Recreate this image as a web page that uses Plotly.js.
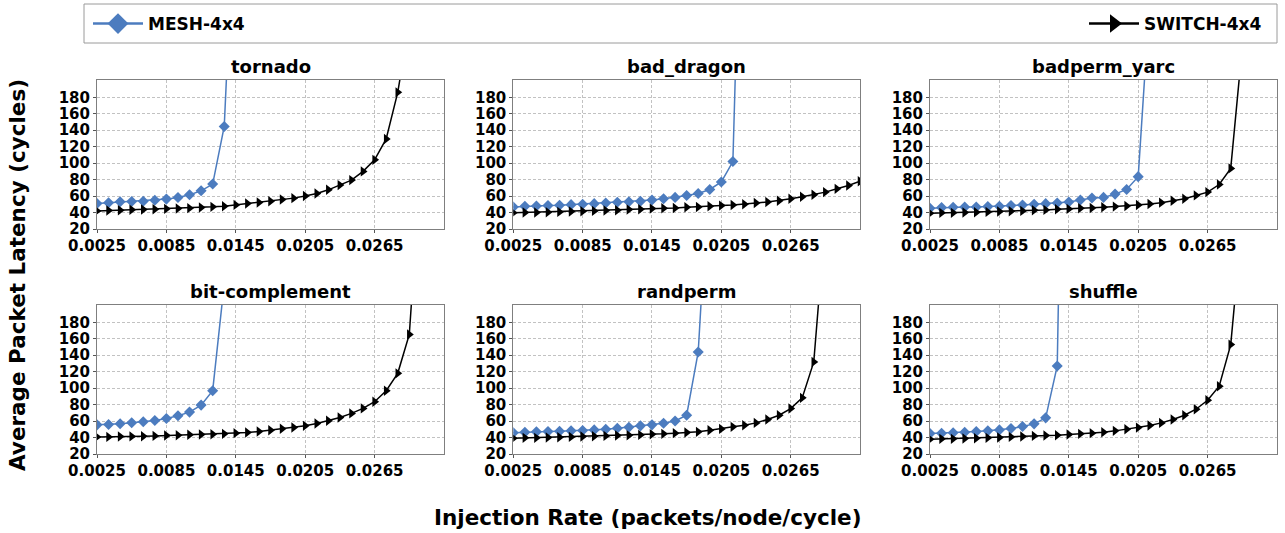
<!DOCTYPE html>
<html>
<head>
<meta charset="utf-8">
<script src="https://cdn.plot.ly/plotly-3.0.1.min.js"></script>
<style>html,body{margin:0;padding:0;background:#fff;}#chart{width:1285px;height:533px;}</style>
</head>
<body>
<div id="chart"></div>
<script>
// Injection rates (packets/node/cycle)
const rates = [0.0025,0.0035,0.0045,0.0055,0.0065,0.0075,0.0085,0.0095,0.0105,0.0115,0.0125,0.0135,0.0145,0.0155,0.0165,0.0175,0.0185,0.0195,0.0205,0.0215,0.0225,0.0235,0.0245,0.0255,0.0265,0.0275,0.0285,0.0295,0.0305,0.0315,0.0325];

const patterns = ["tornado","bad_dragon","badperm_yarc","bit-complement","randperm","shuffle"];
const seriesNames = ["MESH-4x4","SWITCH-4x4"];

// MESH-4x4 average packet latency (cycles)
const meshTornado      = [51,51.8,53,53.4,53.8,55,56.3,58.3,61.5,66.4,74.6,144.5,450];
const meshBadDragon    = [46.8,47.6,48,48.4,48.8,49.6,50,50.8,51.6,52.4,53.2,53.6,55.2,56.8,58.4,60.8,63.2,68,77.2,102,600];
const meshBadpermYarc  = [45.2,46,46.4,46.8,46.8,47.2,47.6,48.4,49.2,50,50.8,51.6,52.8,55.2,57.6,58.4,62.4,68,83.6,300];
const meshBitComp      = [55.4,55.9,56.7,57.9,59.1,60.7,63.2,66.4,70.9,79.4,96.9,227];
const meshRandperm     = [45.7,46.5,46.9,47.3,47.7,48.1,48.5,49.3,50.1,51.3,52.6,54.2,55.4,57.4,60.2,67.1,144,385];
const meshShuffle      = [44.9,45.3,45.7,46.5,47.3,48.1,49.3,50.9,53.4,56.6,63.9,127,900];

// SWITCH-4x4 average packet latency (cycles)
const switchTornado     = [42,42.4,42.8,43.3,43.7,44,44.5,44.9,45.3,46.1,46.9,47.7,49.3,51,52.2,53.8,55.9,57.5,60,63.2,67.6,73.3,79.4,90,104,129.4,186,270];
const switchBadDragon   = [39.6,40,40,40.4,40.8,41.2,41.6,42,42.4,42.8,43.6,44,44.8,45.2,45.6,46.4,46.8,47.6,48.4,49.2,50,51.6,52.8,54.4,56.8,59.2,61.6,64.8,68.8,72.8,78];
const switchBadpermYarc = [39.2,39.6,39.6,40,40.4,40.8,41.2,41.6,42,42.8,43.2,44,44.4,45.2,45.6,46.4,47.2,48,49.2,50.4,52,54.4,56.8,60.8,64.8,74,93.6,242];
const switchBitComp     = [40.8,40.8,41.2,41.4,41.6,42,42.4,42.8,43.3,43.7,44,44.5,45.3,46.1,47.3,48.9,50.6,52.2,54.2,57.1,60.3,64.4,69.3,75.4,83.5,96.9,118,165.2,372];
const switchRandperm    = [39.2,39.6,39.6,40,40.4,40.8,41.2,41.6,42,42.4,42.8,43.2,44,44.5,45.3,46.1,46.9,48.9,50.5,53,55,57.8,61.9,67.1,75.2,88.2,131.9,304];
const switchShuffle     = [38,38.4,38.4,38.8,39.2,39.6,40,40.8,41.2,42,42.4,42.8,43.6,44.5,45.3,46.5,48.1,50.1,52.1,54.6,57.8,61.9,67.1,74.4,85.3,102.3,152.9,305];

const xTickVals = [0.0025,0.0085,0.0145,0.0205,0.0265];
const xTickText = ["0.0025","0.0085","0.0145","0.0205","0.0265"];
const yTickVals = [20,40,60,80,100,120,140,160,180];
const yTickText = ["20","40","60","80","100","120","140","160","180"];

const meshSeries = [meshTornado, meshBadDragon, meshBadpermYarc, meshBitComp, meshRandperm, meshShuffle];
const switchSeries = [switchTornado, switchBadDragon, switchBadpermYarc, switchBitComp, switchRandperm, switchShuffle];

const W = 1285, H = 533;
const colPx = [[97,444],[513.3,860],[930,1277]];
const rowPx = [[80,229],[305,454]];
const BLUE = '#4C7CBF';
const FONT = 'DejaVu Sans, Verdana, sans-serif';

const traces = [];
const legFont = {family:FONT, size:17, weight:'bold', color:'#000'};
const layout = {
  width: W, height: H,
  margin: {l:0,r:0,t:0,b:0},
  paper_bgcolor: '#fff', plot_bgcolor: '#fff',
  font: {family: FONT, color: '#000', weight: 'bold'},
  showlegend: true,
  annotations: [],
  shapes: [{type:'rect', xref:'paper', yref:'paper', x0:84/W, x1:1277/W, y0:1-43/H, y1:1-4/H, line:{color:'#9a9a9a', width:1}, fillcolor:'rgba(0,0,0,0)'}],
  legend: {x: 88/W, y: 1-24/H, xanchor:'left', yanchor:'middle', orientation:'h', itemwidth:50, itemsizing:'trace', bgcolor:'rgba(0,0,0,0)', borderwidth:0, font:legFont},
  legend2: {x: 1267/W, y: 1-24/H, xanchor:'right', yanchor:'middle', orientation:'h', itemwidth:50, itemsizing:'trace', bgcolor:'rgba(0,0,0,0)', borderwidth:0, font:legFont}
};

patterns.forEach((name, i) => {
  const r = Math.floor(i/3), c = i%3;
  const n = i+1;
  const xa = n === 1 ? 'x' : 'x'+n;
  const ya = n === 1 ? 'y' : 'y'+n;
  const xd = [colPx[c][0]/W, colPx[c][1]/W];
  const yd = [1-rowPx[r][1]/H, 1-rowPx[r][0]/H];
  const axCommon = {
    showline:true, mirror:true, linecolor:'#7f7f7f', linewidth:1,
    showgrid:true, gridcolor:'#c2c2c2', griddash:'3px,2px', gridwidth:1,
    zeroline:false, ticks:'outside', ticklen:3, tickcolor:'#555', tickwidth:1,
    tickfont:{family:FONT, size:15, weight:'bold', color:'#000'}, fixedrange:true
  };
  layout['xaxis'+(n===1?'':n)] = Object.assign({}, axCommon, {
    domain: xd, anchor: ya, range:[0.0025,0.0325],
    tickmode:'array', tickvals:xTickVals, ticktext:xTickText
  });
  layout['yaxis'+(n===1?'':n)] = Object.assign({}, axCommon, {
    domain: yd, anchor: xa, range:[20,201],
    tickmode:'array', tickvals:yTickVals, ticktext:yTickText
  });
  traces.push({
    type:'scatter', mode:'lines+markers', name:seriesNames[0],
    x: rates.slice(0, meshSeries[i].length), y: meshSeries[i],
    xaxis: xa, yaxis: ya,
    line:{color:BLUE, width:1.5},
    marker:{symbol:'diamond', size:8.5, color:BLUE},
    showlegend: false
  });
  traces.push({
    type:'scatter', mode:'lines+markers', name:seriesNames[1],
    x: rates.slice(0, switchSeries[i].length), y: switchSeries[i],
    xaxis: xa, yaxis: ya,
    line:{color:'#000', width:1.5},
    marker:{symbol:'triangle-right', size:9, color:'#000'},
    showlegend: false
  });
  layout.annotations.push({
    text: name, xref:'paper', yref:'paper',
    x: (xd[0]+xd[1])/2, y: yd[1], xanchor:'center', yanchor:'bottom', yshift:1,
    showarrow:false, font:{family:FONT, size:18, weight:'bold', color:'#000'}
  });
});

// legend-only entries (larger symbols, as in the reference legend)
traces.push({
  type:'scatter', mode:'lines+markers', name:seriesNames[0], x:[null], y:[null], xaxis:'x', yaxis:'y',
  line:{color:BLUE, width:2.5}, marker:{symbol:'diamond', size:16, color:BLUE},
  showlegend:true, legend:'legend', hoverinfo:'skip'
});
traces.push({
  type:'scatter', mode:'lines+markers', name:seriesNames[1], x:[null], y:[null], xaxis:'x', yaxis:'y',
  line:{color:'#000', width:2.5}, marker:{symbol:'triangle-right', size:16, color:'#000'},
  showlegend:true, legend:'legend2', hoverinfo:'skip'
});

layout.annotations.push({
  text:'Average Packet Latency (cycles)', xref:'paper', yref:'paper',
  x: 17/W, y: 1-275/H, xanchor:'center', yanchor:'middle', textangle:-90,
  showarrow:false, font:{family:FONT, size:21.5, weight:'bold', color:'#000'}
});
layout.annotations.push({
  text:'Injection Rate (packets/node/cycle)', xref:'paper', yref:'paper',
  x: 648/W, y: 1-517/H, xanchor:'center', yanchor:'middle',
  showarrow:false, font:{family:FONT, size:21.5, weight:'bold', color:'#000'}
});

Plotly.newPlot('chart', traces, layout, {displayModeBar:false, staticPlot:true});
</script>
</body>
</html>
